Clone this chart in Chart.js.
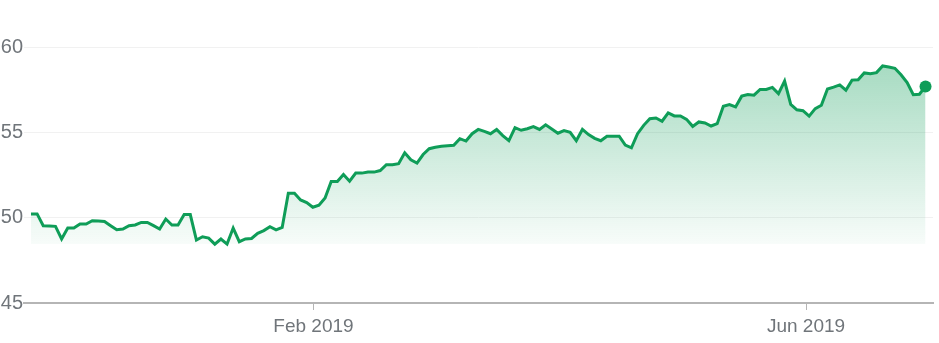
<!DOCTYPE html>
<html>
<head>
<meta charset="utf-8">
<script src="https://cdn.jsdelivr.net/npm/chart.js@4.4.1/dist/chart.umd.min.js"></script>
<style>
  body { margin: 0; background: #fff; }
</style>
</head>
<body>
<canvas id="chart" width="939" height="343"></canvas>
<script>
// daily closing prices (roughly late Nov 2018 to end of Jun 2019)
const prices = [
  50.22, 50.22, 49.53, 49.51, 49.49, 48.75, 49.39, 49.39, 49.63, 49.63,
  49.82, 49.80, 49.78, 49.53, 49.29, 49.33, 49.53, 49.57, 49.72, 49.72,
  49.53, 49.33, 49.92, 49.57, 49.57, 50.18, 50.18, 48.69, 48.88, 48.80,
  48.45, 48.75, 48.45, 49.39, 48.59, 48.75, 48.78, 49.08, 49.24, 49.47,
  49.29, 49.43, 51.43, 51.43, 51.04, 50.88, 50.61, 50.73, 51.15, 52.12,
  52.12, 52.53, 52.14, 52.61, 52.61, 52.67, 52.67, 52.76, 53.10, 53.10,
  53.16, 53.80, 53.39, 53.20, 53.70, 54.04, 54.13, 54.19, 54.22, 54.24,
  54.63, 54.49, 54.92, 55.17, 55.06, 54.92, 55.17, 54.81, 54.51, 55.27,
  55.12, 55.21, 55.33, 55.17, 55.44, 55.20, 54.95, 55.10, 55.00, 54.51,
  55.17, 54.87, 54.65, 54.51, 54.77, 54.77, 54.77, 54.25, 54.09, 54.92,
  55.41, 55.80, 55.84, 55.65, 56.14, 55.96, 55.96, 55.76, 55.35, 55.61,
  55.55, 55.37, 55.51, 56.53, 56.63, 56.49, 57.12, 57.22, 57.18, 57.51,
  57.51, 57.63, 57.27, 58.00, 56.64, 56.32, 56.27, 55.95, 56.39, 56.59,
  57.54, 57.65, 57.78, 57.47, 58.06, 58.08, 58.48, 58.43, 58.50, 58.89,
  58.83, 58.75, 58.37, 57.91, 57.20, 57.23, 57.69
];

// x tick positions are in trading-day index units
const tickAt = [46.1, 126.5];
const tickLabels = ["Feb 2019", "Jun 2019"];

const green = "15, 157, 88";
const lowest = Math.min(...prices);
const last = prices.length - 1;

const points = prices.map((p, i) => ({ x: i, y: p }));

const ctx = document.getElementById("chart");

new Chart(ctx, {
  type: "line",
  data: {
    datasets: [
      {
        data: points,
        borderColor: `rgb(${green})`,
        borderWidth: 3,
        tension: 0,
        pointRadius: prices.map((_, i) => (i === last ? 6 : 0)),
        pointBackgroundColor: `rgb(${green})`,
        pointBorderWidth: 0,
        clip: false,
        fill: { value: lowest },
        backgroundColor: (c) => {
          const area = c.chart.chartArea;
          if (!area) return "transparent";
          const yScale = c.chart.scales.y;
          const g = c.chart.ctx.createLinearGradient(0, area.top, 0, yScale.getPixelForValue(lowest));
          g.addColorStop(0, `rgba(${green}, 0.4)`);
          g.addColorStop(1, `rgba(${green}, 0.03)`);
          return g;
        },
      },
    ],
  },
  options: {
    responsive: false,
    animation: false,
    layout: { padding: { top: 47, right: 4, left: 0, bottom: 0 } },
    plugins: {
      legend: { display: false },
      tooltip: { enabled: false },
    },
    scales: {
      x: {
        type: "linear",
        min: -1.14,
        max: 147.22,
        afterBuildTicks: (scale) => {
          scale.ticks = tickAt.map((v) => ({ value: v }));
        },
        afterFit: (scale) => {
          scale.height = 40;
        },
        grid: {
          drawOnChartArea: false,
          drawTicks: true,
          tickLength: 7,
          tickColor: "#b5b5b5",
        },
        border: { display: true, color: "#b5b5b5", width: 2 },
        ticks: {
          autoSkip: false,
          maxRotation: 0,
          padding: 5,
          color: "#70757a",
          font: { family: "Arial, 'Liberation Sans'", size: 19 },
          callback: (value, index) => tickLabels[index],
        },
      },
      y: {
        min: 45,
        max: 60,
        afterFit: (scale) => {
          scale.width = 24;
        },
        grid: { color: "#f1f1f1", drawTicks: false },
        border: { display: false },
        ticks: {
          stepSize: 5,
          padding: 1,
          color: "#70757a",
          font: { family: "Arial, 'Liberation Sans'", size: 20 },
        },
      },
    },
  },
});
</script>
</body>
</html>
